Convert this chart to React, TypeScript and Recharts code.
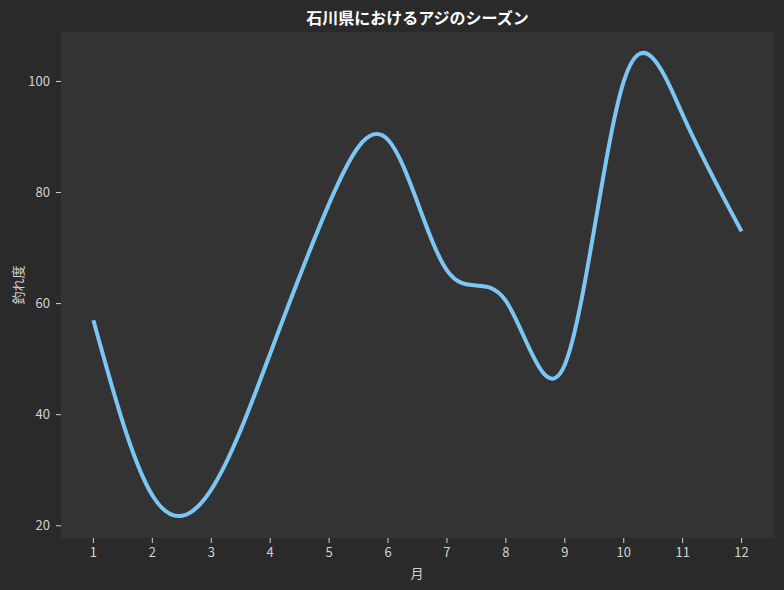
import React from 'react';
import { LineChart, Line, XAxis, YAxis, CartesianGrid } from 'recharts';

const months = [1, 2, 3, 4, 5, 6, 7, 8, 9, 10, 11, 12];
const catchIndex = [57, 25.5, 26.5, 51, 78, 89.5, 66, 60.5, 49, 100, 94, 73];
const yTicks = [20, 40, 60, 80, 100];
const title = '石川県におけるアジのシーズン';
const xLabel = '月';
const yLabel = '釣れ度';

const data = months.map((m, i) => ({ month: m, value: catchIndex[i] }));

const FONT = '"Noto Sans CJK JP", "Noto Sans", sans-serif';
const TEXT = '#d2d2d2';

export default function App() {
  return (
    <div
      style={{
        position: 'fixed',
        left: 0,
        top: 0,
        width: 784,
        height: 590,
        background: '#2a2a2a',
        fontFamily: FONT,
        overflow: 'hidden',
      }}
    >
      <LineChart
        width={784}
        height={590}
        data={data}
        margin={{ top: 32, right: 10, bottom: 0, left: 0 }}
        style={{ fontFamily: FONT }}
      >
        <CartesianGrid fill="#333333" stroke="none" horizontal={false} vertical={false} />
        <XAxis
          dataKey="month"
          type="number"
          domain={[0.45, 12.55]}
          ticks={months}
          interval={0}
          allowDataOverflow
          axisLine={false}
          tickLine={{ stroke: TEXT }}
          tickSize={5}
          tickMargin={5}
          height={52}
          tick={{ fill: TEXT, fontSize: 13 }}
        />
        <YAxis
          type="number"
          domain={[17.8, 108.9]}
          ticks={yTicks}
          interval={0}
          allowDataOverflow
          axisLine={false}
          tickLine={{ stroke: TEXT }}
          tickSize={5}
          tickMargin={6}
          width={61}
          tick={{ fill: TEXT, fontSize: 13 }}
        />
        <Line
          type="natural"
          dataKey="value"
          stroke="#7cc6f4"
          strokeWidth={4}
          dot={false}
          activeDot={false}
          isAnimationActive={false}
        />
      </LineChart>
      <div
        style={{
          position: 'absolute',
          left: 61,
          width: 713,
          top: 6,
          textAlign: 'center',
          color: '#ffffff',
          fontWeight: 'bold',
          fontSize: 16,
          lineHeight: '22px',
        }}
      >
        {title}
      </div>
      <div
        style={{
          position: 'absolute',
          left: 18,
          top: 285,
          transform: 'translate(-50%, -50%) rotate(-90deg)',
          color: TEXT,
          fontSize: 13,
          whiteSpace: 'nowrap',
          lineHeight: '16px',
        }}
      >
        {yLabel}
      </div>
      <div
        style={{
          position: 'absolute',
          left: 417,
          top: 573,
          transform: 'translate(-50%, -50%)',
          color: TEXT,
          fontSize: 13,
          lineHeight: '16px',
        }}
      >
        {xLabel}
      </div>
    </div>
  );
}
